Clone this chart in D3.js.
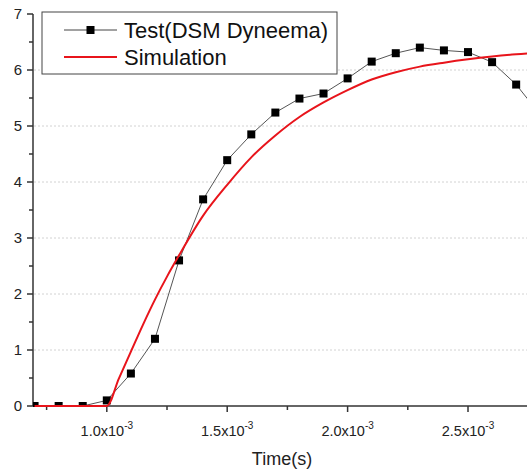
<!DOCTYPE html>
<html>
<head>
<meta charset="utf-8">
<script src="https://cdn.jsdelivr.net/npm/d3@7"></script>
<style>
  html, body { margin: 0; padding: 0; background: #fff; }
  svg { display: block; font-family: "Liberation Sans", Arial, sans-serif; }
</style>
</head>
<body>
<div id="chart"></div>
<script>
/* Test data: time (x1e-3 s) and value */
const TEST_T = [0.7, 0.8, 0.9, 1.0, 1.1, 1.2, 1.3, 1.4, 1.5, 1.6, 1.7, 1.8, 1.9, 2.0, 2.1, 2.2, 2.3, 2.4, 2.5, 2.6, 2.7, 2.8];
const TEST_V = [0, 0, 0, 0.1, 0.58, 1.2, 2.6, 3.69, 4.39, 4.85, 5.24, 5.49, 5.58, 5.85, 6.15, 6.3, 6.4, 6.35, 6.32, 6.14, 5.74, 5.2];

/* Simulation curve */
const SIM_T = [0.7, 1.0, 1.05, 1.1, 1.15, 1.2, 1.25, 1.3, 1.4, 1.5, 1.6, 1.7, 1.8, 1.9, 2.0, 2.1, 2.2, 2.3, 2.4, 2.5, 2.6, 2.7, 2.8];
const SIM_V = [0, 0, 0.49, 0.97, 1.45, 1.9, 2.31, 2.69, 3.4, 3.95, 4.44, 4.83, 5.16, 5.42, 5.64, 5.83, 5.96, 6.06, 6.13, 6.19, 6.24, 6.28, 6.31];

const X_TICKS = [1.0, 1.5, 2.0, 2.5];
const X_MINOR = [0.75, 1.25, 1.75, 2.25];
const Y_TICKS = [0, 1, 2, 3, 4, 5, 6, 7];
const SERIES_NAMES = ["Test(DSM Dyneema)", "Simulation"];

const W = 527, H = 470;
const svg = d3.select("#chart").append("svg").attr("width", W).attr("height", H);

const x = d3.scaleLinear().domain([0.6935, 2.745]).range([33, 527]);
const y = d3.scaleLinear().domain([0, 7]).range([406, 14]);

svg.append("clipPath").attr("id", "clip").append("rect")
  .attr("x", 33).attr("y", 0).attr("width", W - 33).attr("height", 407);

/* Grid */
svg.append("g").selectAll("line").data(Y_TICKS.filter(d => d > 0 && d < 7)).enter().append("line")
  .attr("x1", 34).attr("x2", W).attr("y1", d => y(d)).attr("y2", d => y(d))
  .attr("stroke", "#d2d2d2").attr("stroke-width", 1).attr("stroke-dasharray", "2,2");

/* Y axis */
const yAxis = svg.append("g").attr("transform", "translate(33,0)");
yAxis.append("line").attr("x1", 0).attr("x2", 0).attr("y1", y(0)).attr("y2", y(7))
  .attr("stroke", "#333").attr("stroke-width", 1.5);
yAxis.selectAll(".maj").data(Y_TICKS).enter().append("line")
  .attr("x1", -6).attr("x2", 0).attr("y1", d => y(d)).attr("y2", d => y(d))
  .attr("stroke", "#333").attr("stroke-width", 1.5);
yAxis.selectAll(".min").data(d3.range(0.5, 7, 1)).enter().append("line")
  .attr("x1", -4).attr("x2", 0).attr("y1", d => y(d)).attr("y2", d => y(d))
  .attr("stroke", "#333").attr("stroke-width", 1.5);
yAxis.selectAll("text").data(Y_TICKS).enter().append("text")
  .attr("x", -11).attr("y", d => y(d)).attr("dy", "0.36em").attr("text-anchor", "end")
  .style("font-size", "15px").style("fill", "#222").text(d => d);

/* X axis */
const xAxis = svg.append("g").attr("transform", `translate(0,${y(0)})`);
xAxis.append("line").attr("x1", 33).attr("x2", W).attr("stroke", "#333").attr("stroke-width", 1.5);
xAxis.selectAll(".maj").data(X_TICKS).enter().append("line")
  .attr("x1", d => x(d)).attr("x2", d => x(d)).attr("y1", 0).attr("y2", 6)
  .attr("stroke", "#333").attr("stroke-width", 1.5);
xAxis.selectAll(".min").data(X_MINOR).enter().append("line")
  .attr("x1", d => x(d)).attr("x2", d => x(d)).attr("y1", 0).attr("y2", 4)
  .attr("stroke", "#333").attr("stroke-width", 1.5);
const xl = xAxis.selectAll(".lbl").data(X_TICKS).enter().append("text")
  .attr("x", d => x(d)).attr("y", 30).attr("text-anchor", "middle")
  .style("font-size", "14.5px").style("fill", "#222");
xl.append("tspan").text(d => d.toFixed(1) + "x10");
xl.append("tspan").attr("dy", -7).style("font-size", "10px").text("-3");

svg.append("text").attr("x", 282).attr("y", 465).attr("text-anchor", "middle")
  .style("font-size", "18px").style("fill", "#222").text("Time(s)");

/* Data */
const plot = svg.append("g").attr("clip-path", "url(#clip)");
const testData = TEST_T.map((t, i) => [t, TEST_V[i]]);
const simData = SIM_T.map((t, i) => [t, SIM_V[i]]);

plot.append("path").datum(testData)
  .attr("d", d3.line().x(d => x(d[0])).y(d => y(d[1])))
  .attr("fill", "none").attr("stroke", "#555").attr("stroke-width", 1);
plot.selectAll(".mk").data(testData).enter().append("rect")
  .attr("x", d => x(d[0]) - 4).attr("y", d => y(d[1]) - 4)
  .attr("width", 8).attr("height", 8).attr("fill", "#000");

plot.append("path").datum(simData)
  .attr("d", d3.line().x(d => x(d[0])).y(d => y(d[1])).curve(d3.curveMonotoneX))
  .attr("fill", "none").attr("stroke", "#e8141b").attr("stroke-width", 2);

/* Legend */
const lg = svg.append("g");
lg.append("rect").attr("x", 42).attr("y", 12).attr("width", 295).attr("height", 62)
  .attr("fill", "#fff").attr("stroke", "#444").attr("stroke-width", 1);
lg.append("line").attr("x1", 64).attr("x2", 117).attr("y1", 30).attr("y2", 30)
  .attr("stroke", "#444").attr("stroke-width", 1);
lg.append("rect").attr("x", 86.5).attr("y", 26).attr("width", 8).attr("height", 8).attr("fill", "#000");
lg.append("line").attr("x1", 64).attr("x2", 117).attr("y1", 57).attr("y2", 57)
  .attr("stroke", "#e8141b").attr("stroke-width", 2);
lg.selectAll("text").data(SERIES_NAMES).enter().append("text")
  .attr("x", 124).attr("y", (d, i) => 30 + i * 27).attr("dy", "0.36em")
  .style("font-size", "22px").style("fill", "#111").text(d => d);
</script>
</body>
</html>
